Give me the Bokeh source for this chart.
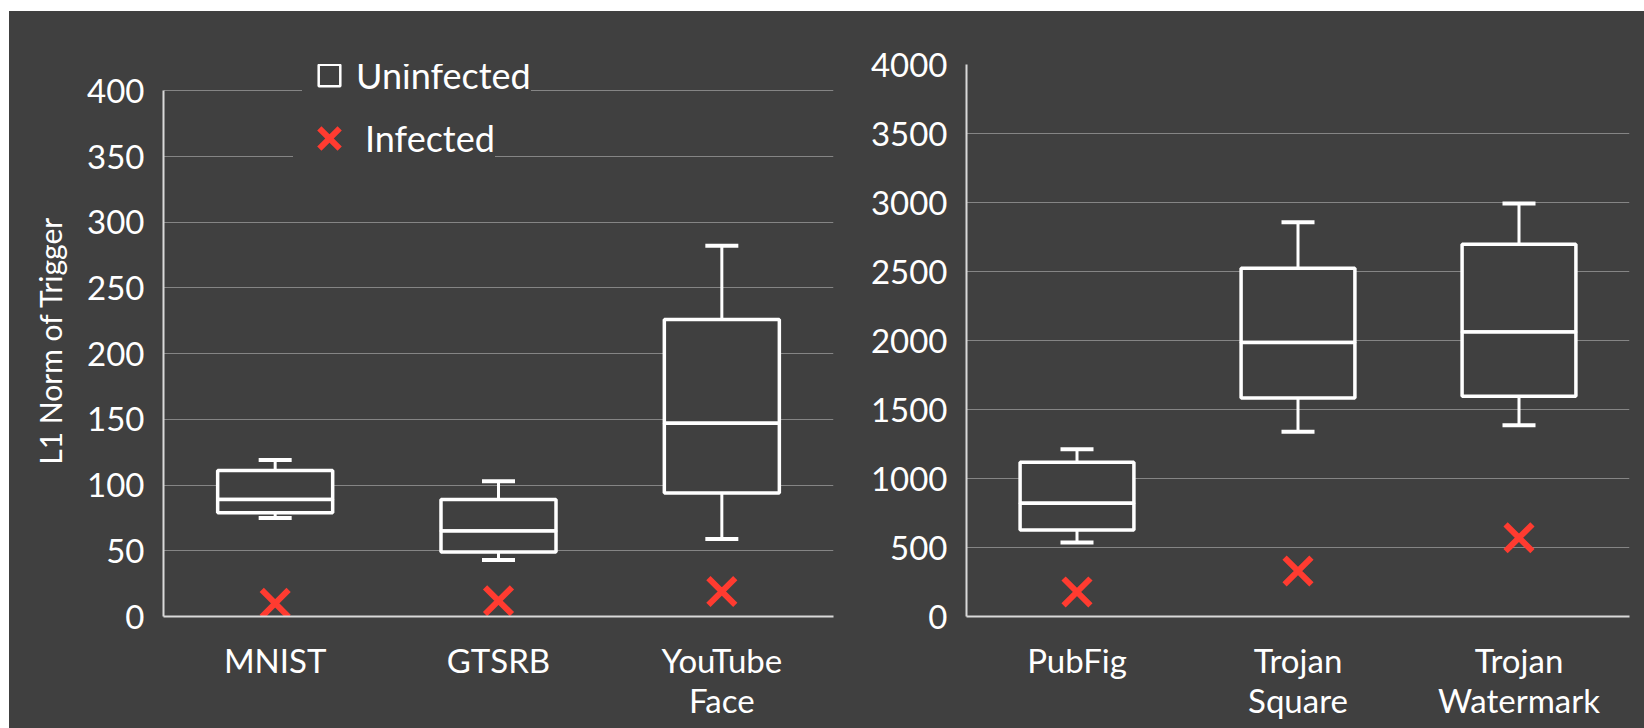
from bokeh.plotting import figure
from bokeh.layouts import row, column
from bokeh.models import (ColumnDataSource, FactorRange, Range1d, SingleIntervalTicker,
                          Legend, LegendItem, Spacer)
from bokeh.embed import file_html
from bokeh.resources import INLINE

# ---------------- data ----------------
left_categories = ["MNIST", "GTSRB", "YouTube\nFace"]
left_lower = [75, 43, 59]
left_q1 = [79, 49, 94]
left_median = [89, 65, 147]
left_q3 = [111, 89, 226]
left_upper = [119, 103, 282]
left_infected = [10, 12, 19]

right_categories = ["PubFig", "Trojan\nSquare", "Trojan\nWatermark"]
right_lower = [537, 1338, 1386]
right_q1 = [626, 1584, 1596]
right_median = [820, 1986, 2062]
right_q3 = [1118, 2524, 2698]
right_upper = [1212, 2857, 2992]
right_infected = [178, 330, 571]

y_title = "L1 Norm of Trigger"
legend_labels = ["Uninfected", "Infected"]

# ---------------- style ----------------
BG = "#404040"
GRID = "#858585"
AXIS = "#d9d9d9"
WHITE = "#ffffff"
RED = "#ff3b30"
FONT = "Lato"


def make_panel(cats, lower, q1, med, q3, upper, infected, yend, ymax, tick_interval,
               width, height, bl, br, bt, bb, **kw):
    src = ColumnDataSource(dict(cat=cats, lower=lower, q1=q1, med=med, q3=q3,
                                upper=upper, infected=infected))
    p = figure(x_range=FactorRange(*cats), y_range=Range1d(0, yend),
               width=width, height=height, output_backend="svg", toolbar_location=None,
               min_border_left=bl, min_border_right=br, min_border_top=bt,
               min_border_bottom=bb, **kw)
    p.background_fill_color = BG
    p.border_fill_color = BG
    p.outline_line_color = None

    p.xgrid.visible = False
    p.ygrid.grid_line_color = GRID
    p.ygrid.grid_line_width = 1
    p.yaxis.ticker = SingleIntervalTicker(interval=tick_interval)
    p.yaxis.bounds = (0, ymax)

    for ax in (p.xaxis, p.yaxis):
        ax.major_tick_line_color = None
        ax.minor_tick_line_color = None
        ax.major_tick_out = 0
        ax.major_tick_in = 0
        ax.axis_line_color = AXIS
        ax.axis_line_width = 2
        ax.major_label_text_color = WHITE
        ax.major_label_text_font = FONT
        ax.major_label_text_font_size = "33px"
    p.yaxis.major_label_standoff = 15
    p.xaxis.major_label_standoff = 23
    p.xaxis.major_label_text_line_height = 1.0

    # whiskers
    p.segment(x0="cat", y0="q3", x1="cat", y1="upper", source=src,
              line_color=WHITE, line_width=3)
    p.segment(x0="cat", y0="q1", x1="cat", y1="lower", source=src,
              line_color=WHITE, line_width=3)
    p.scatter(x="cat", y="upper", marker="dash", size=33, source=src,
              line_color=WHITE, line_width=4)
    p.scatter(x="cat", y="lower", marker="dash", size=33, source=src,
              line_color=WHITE, line_width=4)
    # boxes (two halves share the median edge)
    p.vbar(x="cat", bottom="med", top="q3", width=0.515, source=src,
           fill_color=BG, line_color=WHITE, line_width=3.5)
    p.vbar(x="cat", bottom="q1", top="med", width=0.515, source=src,
           fill_color=BG, line_color=WHITE, line_width=3.5)
    # infected markers
    xr = p.scatter(x="cat", y="infected", marker="x", size=38, source=src,
                   line_color=RED, line_width=6)
    return p, xr, src


p1, xr1, src1 = make_panel(left_categories, left_lower, left_q1, left_median, left_q3,
                           left_upper, left_infected, 420, 400, 50,
                           851, 717, 154, 27, 15, 112, title_location="left")
p2, _, _ = make_panel(right_categories, right_lower, right_q1, right_median, right_q3,
                      right_upper, right_infected, 4000, 4000, 500,
                      784, 717, 106, 15, 53, 111)

# y axis title (left side title of the first panel)
p1.title.text = y_title
p1.title.text_font = FONT
p1.title.text_font_size = "30px"
p1.title.text_font_style = "normal"
p1.title.text_color = WHITE
p1.title.align = "center"
p1.title.offset = 32
p1.title.vertical_align = "top"
p1.title.standoff = 30

# legend: square item (hidden renderer used only for its glyph)
sq = p1.scatter(x="cat", y="med", marker="square", size=21, source=src1,
                fill_color=None, line_color=WHITE, line_width=2.5, visible=False)
common = dict(margin=0, padding=2, background_fill_color=BG, background_fill_alpha=1.0,
              border_line_color=None, label_text_color=WHITE, label_text_font=FONT,
              label_text_font_size="36px", inactive_fill_alpha=0.0)
legend1 = Legend(items=[LegendItem(label=legend_labels[0], renderers=[sq])],
                 location=(139, 514), glyph_width=54, glyph_height=54,
                 label_standoff=-5, **common)
legend2 = Legend(items=[LegendItem(label=legend_labels[1], renderers=[xr1])],
                 location=(130, 442), glyph_width=72, glyph_height=72,
                 label_standoff=-13, **common)
p1.add_layout(legend1)
p1.add_layout(legend2)

panels = row(p1, p2, styles={"background-color": BG})
layout = column(Spacer(height=11, width=1644), row(Spacer(width=9, height=717), panels))
open("out.html", "w").write(file_html(layout, INLINE))
